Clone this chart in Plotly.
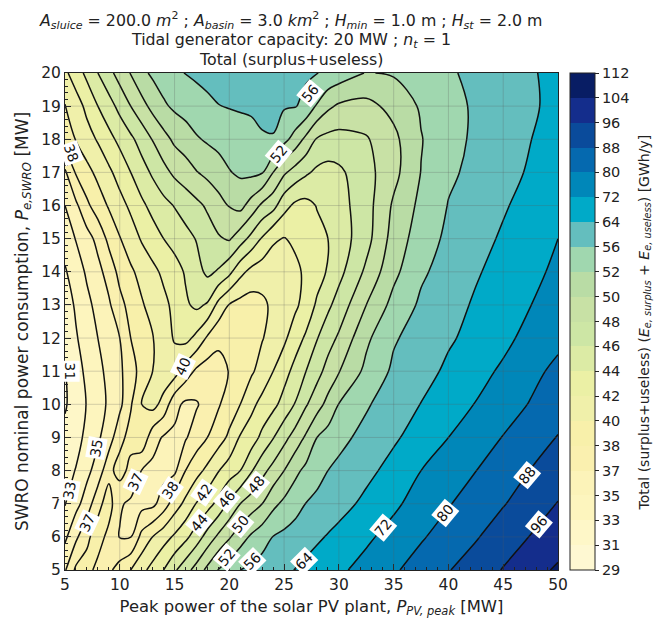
import numpy as np
import plotly.graph_objects as go

pv_peak = [5,6,7,8,9,10,11,12,13,14,15,16,17,18,19,20,21,22,23,24,25,26,27,28,29,30,32.5,35,37.5,40,42.5,45,47.5,50]
swro = [5,6,7,8,9,10,11,12,13,14,15,16,17,18,19,20]
total_surplus_useless = [
 [36.8,38.4,38.7,37.7,37.8,38.8,40,41.4,42.7,44,45.7,47.2,48.8,50.5,52.2,54.1,56,57.6,59.3,60.9,62.5,64.2,65.8,67.4,69,70.6,74.7,79,83.3,87.6,92,96.4,100.9,105.2],
 [34.6,36.6,37.8,38.9,37.7,36.9,36.95,38.6,40,41.2,42.3,43.5,45,46.8,48.4,49.8,51.1,52.6,54.4,56.2,57.8,59.4,61.2,62.9,64.5,66.3,70.6,74.9,79.2,83.3,87.3,92.2,96.3,100],
 [32.9,34.4,35.9,37.7,38.9,37.1,36.7,36.3,36.5,37.5,39,40.5,42.1,43.2,44.6,46.4,48,49,50,51.5,52.9,54.5,56.2,58,60,61.2,65.8,70.5,75.4,79.5,83.5,87.5,92,96.3],
 [32.2,33.1,34.5,35.8,37.7,38.8,37.7,36.95,36.5,36.3,36.6,38,39.3,40.5,41.9,43,44,45.8,47.4,48.7,50,51.5,53,54.6,56,57.6,62,66.6,72,75.9,79.9,83.9,88.2,92.5],
 [31.5,32.3,33.5,34.7,36,37.7,38.7,39.6,37.4,36.8,36.6,36.8,37.5,38,39.1,40.4,42.2,43,44.5,45.9,47.4,48.8,50.3,52,53.5,55,58.2,62.9,67.3,72,76.3,80.3,84.4,88.3],
 [30.8,31.9,33.1,34.2,35.3,36.5,37.9,40,40.7,39.3,37.3,36.6,36.8,37.4,37.9,38.9,40,41.5,42.6,43.5,44.7,46.1,47.8,49.2,50.6,52.1,55.6,59.8,64.2,68.4,72.3,76.4,80.5,85],
 [30.9,32.3,33.4,34.5,35.5,36.6,37.6,38.7,40,41.3,40.9,39.1,37.8,37.5,37.6,38.1,38.9,39.7,40.8,42,43.3,44.6,46,47.3,48.7,49.9,53,57.4,61,65.5,69.4,73.2,77.7,82],
 [31.4,32.8,34,35,36,37,38,38.9,39.9,41,42.2,42.6,41.5,39.7,38.5,38.3,38.7,39.2,39.9,40.7,41.6,43.1,44.3,45.9,47.2,48.3,51.6,55.6,59.2,63,66.4,70.1,74.4,78],
 [31.9,33.3,34.5,35.6,36.7,37.7,38.7,39.8,40.7,41.5,42.5,43.7,44.4,43.8,41.4,39.9,39.3,39.1,39.6,40.4,41,41.6,42.8,44.3,45.6,46.8,50,53.3,57.3,61,65,68.5,71.9,75.3],
 [32.8,34,35.3,36.4,37.4,38.6,39.7,40.6,41.5,42.4,43.2,44.2,45.3,46.4,45.8,44.5,42.6,41.4,40.9,40.8,41.1,41.5,42.4,43.2,44.2,45.4,48.4,51.5,55.4,59.1,63.2,66.8,70.1,73.5],
 [33.8,35.1,36.2,37.3,38.5,39.9,41,42.2,43.1,44,44.7,45.4,46.1,47,47.8,48.2,46.9,45.4,43.8,42.3,41.9,42.4,42.9,43.4,44,44.9,47.3,50.8,54.1,57.6,61.3,65,68.5,72],
 [35,36.6,37.8,39,40.2,41.3,42.4,43.6,44.6,45.4,46.1,46.8,47.5,48.3,49.2,50.1,50.6,49.2,47.6,46.7,44.7,43.6,43.4,44.1,44.6,45.2,47.2,50.3,53,56.3,59,63.2,66.8,69],
 [36.7,38.2,39.4,40.5,41.6,42.8,44,45.2,46.3,47.4,48.4,49.1,49.9,50.5,51.2,51.9,52.6,52.9,52.3,50,48.3,47.2,46.3,45.6,45.3,45.6,47.3,49.4,52.1,55.4,57.8,61.7,64.8,67.5],
 [38.8,40.1,41.2,42.2,43.4,44.5,45.6,46.8,48.1,49.3,50.4,51,51.8,52.5,53.1,53.7,54.3,54.9,55.8,55.9,53.2,51.2,49.5,47.8,47.4,47.3,47.8,49.5,51.9,54.8,57.2,60.2,63.9,66.5],
 [39.9,41.1,42.5,44,45.2,46.6,48,49.3,50.6,51.7,52.7,53.6,54.4,55.2,55.9,56.4,56.8,57,57,56.9,56.7,56.4,55,51.8,50.4,49.7,49.4,50.6,52.5,54.6,57.2,60,63,66],
 [41.6,43,44.5,46,47.4,48.8,50.1,51.5,52.7,53.9,55.1,56.3,57.3,58.2,58.9,59.4,59.7,59.8,59.6,59.3,58.8,58,57,56.2,55.2,54.2,51.9,52.4,53.8,55.4,58.3,60.5,63.3,66],
]
levels = [29,31,33,35,37,38,40,42,44,46,48,50,52,56,64,72,80,88,96,104,112]
band_colors = ["#fef8d2","#fef7c8","#fdf5be","#fcf3b9","#faf0af","#f8f0aa","#f0f0aa","#ebf0a5","#dcEBa5","#cde6a5","#c8e1a5","#b9dca5","#a0d7af","#64bebe","#00aac8","#0087b9","#0569af","#0a4b9b","#142d8c","#081d64"]
x_ticks = [5,10,15,20,25,30,35,40,45,50]
y_ticks = list(range(5,21))
title_lines = [
    "<i>A<sub>sluice</sub></i> = 200.0 <i>m</i><sup>2</sup> ; <i>A<sub>basin</sub></i> = 3.0 <i>km</i><sup>2</sup> ; <i>H<sub>min</sub></i> = 1.0 m ; <i>H<sub>st</sub></i> = 2.0 m",
    "Tidal generator capacity: 20 MW ; <i>n<sub>t</sub></i> = 1",
    "Total (surplus+useless)",
]
label_text = ["38","52","56","31","40","35","33","37","37","38","42","44","46","48","50","52","56","64","72","80","88","96"]
label_x = [5.6,24.5,27.4,5.45,15.8,7.9,5.45,7,11.4,14.6,17.65,17.2,19.8,22.4,21,19.8,22.1,26.8,34,39.7,47.2,48.3]
label_y = [17.6,17.55,19.4,11,11.15,8.67,7.4,6.43,7.67,7.42,7.33,6.43,7.13,7.58,6.4,5.38,5.28,5.28,6.28,6.73,7.87,6.38]
label_angle = [70,-50,-50,90,-65,-80,-80,-65,-65,-55,-55,-50,-50,-50,-50,-50,-45,-45,-50,-50,-50,-50]

FONT = "DejaVu Sans"
z_index = np.interp(np.array(total_surplus_useless), levels, np.arange(len(levels)))
n = len(band_colors)
scale = []
for i, c in enumerate(band_colors):
    scale += [[i / n, c], [(i + 1) / n, c]]

fig = go.Figure()
fig.add_trace(go.Contour(
    x=pv_peak, y=swro, z=z_index, zmin=0, zmax=n, colorscale=scale,
    contours=dict(start=0, end=n, size=1, coloring="fill", showlines=False),
    line=dict(width=0, smoothing=1), hoverinfo="skip",
    colorbar=dict(
        thickness=25, len=1, lenmode="fraction", x=1.0243, xanchor="left", y=0.5, yanchor="middle", xpad=0, ypad=0,
        tickmode="array", tickvals=list(range(len(levels))), ticktext=[str(v) for v in levels],
        ticks="outside", ticklen=4, tickcolor="#222", outlinecolor="#222", outlinewidth=1,
        tickfont=dict(family=FONT, size=14.5, color="#222"),
    ),
))
fig.add_trace(go.Contour(
    x=pv_peak, y=swro, z=z_index, showscale=False, hoverinfo="skip",
    contours=dict(start=1, end=n - 1, size=1, coloring="none", showlines=True),
    line=dict(color="#111", width=1.5, smoothing=1),
))
for t, lx, ly, a in zip(label_text, label_x, label_y, label_angle):
    fig.add_annotation(x=lx, y=ly, text=t, textangle=a, showarrow=False, bgcolor="white", borderpad=1,
                       font=dict(family=FONT, size=14, color="#111"))
for line, centre in zip(title_lines, [1.105, 1.065, 1.027]):
    fig.add_annotation(xref="paper", yref="paper", x=0.458, y=centre, xanchor="center", yanchor="middle",
                       text=line, showarrow=False, font=dict(family=FONT, size=15.8, color="#222"))
fig.add_annotation(xref="paper", yref="paper", x=1.1765, y=0.498, xanchor="center", yanchor="middle", textangle=-90,
                   text="Total (surplus+useless) (<i>E<sub>e, surplus</sub></i> + <i>E<sub>e, useless</sub></i>) [GWh/y]",
                   showarrow=False, font=dict(family=FONT, size=14, color="#222"))
grid = dict(color="rgba(90,90,90,0.25)", width=1)
for v in x_ticks[1:-1]:
    fig.add_shape(type="line", xref="x", yref="paper", x0=v, x1=v, y0=0, y1=1, line=grid, layer="above")
for v in y_ticks[1:-1]:
    fig.add_shape(type="line", xref="paper", yref="y", x0=0, x1=1, y0=v, y1=v, line=grid, layer="above")

axis = dict(showgrid=False, zeroline=False, showline=True, mirror=True, linecolor="#222", linewidth=1,
            ticks="inside", ticklen=6, tickcolor="#222", tickfont=dict(family=FONT, size=15.5, color="#222"))
fig.update_xaxes(range=[5, 50], tickmode="array", tickvals=x_ticks,
                 minor=dict(ticks="inside", dtick=1, ticklen=3, tickcolor="#222"),
                 title=dict(text="Peak power of the solar PV plant, <i>P<sub>PV, peak</sub></i> [MW]",
                            font=dict(family=FONT, size=16.4, color="#222"), standoff=7), **axis)
fig.update_yaxes(range=[5, 20], tickmode="array", tickvals=y_ticks,
                 minor=dict(ticks="inside", dtick=0.2, ticklen=3, tickcolor="#222"),
                 title=dict(text="SWRO nominal power consumption, <i>P<sub>e,SWRO</sub></i> [MW]",
                            font=dict(family=FONT, size=17, color="#222"), standoff=8), **axis)
fig.update_layout(
    width=667, height=624, autosize=False, paper_bgcolor="white", plot_bgcolor="white",
    margin=dict(l=65, r=109, t=73, b=50), showlegend=False,
)
fig.write_html("out.html", config={"displayModeBar": False}, post_script="document.body.style.margin='0';")
